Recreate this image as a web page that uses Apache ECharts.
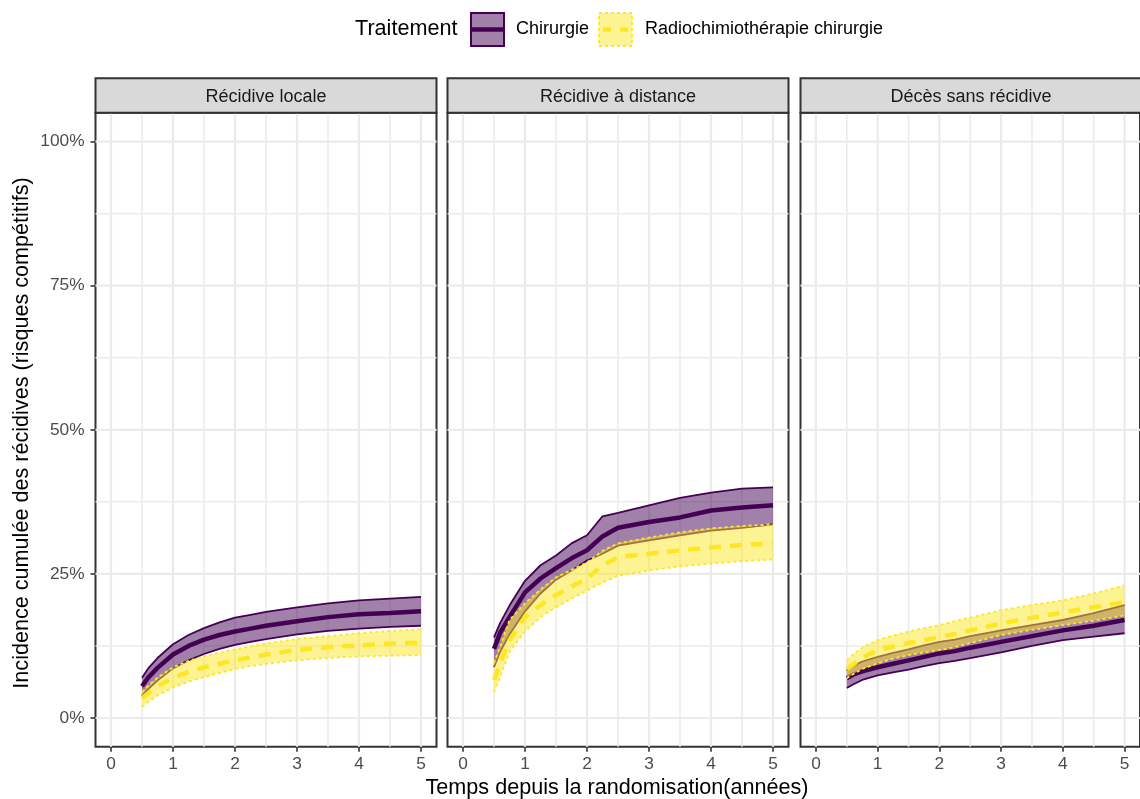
<!DOCTYPE html>
<html>
<head>
<meta charset="utf-8">
<script src="https://cdn.jsdelivr.net/npm/echarts@6/dist/echarts.min.js"></script>
<style>html,body{margin:0;padding:0;background:#fff}#c{width:1140px;height:799px}</style>
</head>
<body>
<div id="c"></div>
<script>
// ---------------- DATA ----------------
const panelTitles = ['Récidive locale', 'Récidive à distance', 'Décès sans récidive'];
const groupNames = ['Chirurgie', 'Radiochimiothérapie chirurgie'];
const legendTitle = 'Traitement';
const xTitle = 'Temps depuis la randomisation(années)';
const yTitle = 'Incidence cumulée des récidives (risques compétitifs)';
const xTicks = [0, 1, 2, 3, 4, 5];
const xMinor = [0.5, 1.5, 2.5, 3.5, 4.5];
const yTicks = [0, 25, 50, 75, 100];
const yMinor = [12.5, 37.5, 62.5, 87.5];
const times = [0.5, 0.6, 0.75, 1, 1.25, 1.5, 1.75, 2, 2.25, 2.5, 3, 3.5, 4, 4.5, 5];

// Récidive locale
const locChirCenter = [5.5, 7, 8.7, 11, 12.5, 13.6, 14.4, 15, 15.5, 16, 16.8, 17.5, 18, 18.2, 18.5];
const locChirUpper  = [7, 8.6, 10.4, 12.8, 14.4, 15.6, 16.6, 17.4, 17.9, 18.4, 19.2, 19.9, 20.4, 20.7, 21];
const locChirLower  = [3.8, 5, 6.5, 8.6, 10, 11.1, 12, 12.7, 13.2, 13.7, 14.5, 15.1, 15.5, 15.8, 16];
const locRadioCenter = [3.4, 4.3, 5.5, 7, 8, 8.8, 9.4, 10, 10.5, 11, 11.8, 12.3, 12.6, 12.9, 13.1];
const locRadioUpper  = [4.5, 5.6, 7, 8.8, 9.9, 10.7, 11.3, 11.9, 12.4, 12.9, 13.7, 14.2, 14.7, 15.1, 15.4];
const locRadioLower  = [1.9, 2.8, 3.9, 5.3, 6.3, 7.1, 7.8, 8.5, 9, 9.4, 10, 10.4, 10.7, 10.8, 10.9];

// Récidive à distance
const distChirCenter = [12, 14.8, 17.5, 21.8, 24.2, 26, 27.7, 29.1, 31.5, 33, 34, 34.8, 36, 36.5, 36.9];
const distChirUpper  = [14, 16.5, 19.5, 23.8, 26.5, 28.2, 30.3, 31.7, 35, 35.6, 36.9, 38.2, 39.1, 39.8, 40];
const distChirLower  = [8.8, 11.5, 14.5, 18.5, 21.6, 24, 25.6, 27.3, 28.5, 29.9, 30.8, 31.7, 32.5, 33, 33.6];
const distRadioCenter = [6.6, 9.5, 13.5, 17.5, 19.6, 21.3, 22.8, 24.2, 26.5, 27.9, 28.5, 29.1, 29.6, 30, 30.3];
const distRadioUpper  = [9.5, 12.5, 17, 19.9, 22.3, 24.4, 25.7, 27, 29, 30.3, 31.3, 32.2, 32.9, 33.3, 33.6];
const distRadioLower  = [4.5, 7.2, 11.5, 15, 17.5, 19.2, 20.7, 22.1, 23.5, 24.7, 25.6, 26.3, 26.8, 27.2, 27.5];

// Décès sans récidive
const deathChirCenter = [6.9, 7.5, 8.1, 8.8, 9.4, 10, 10.6, 11.2, 11.6, 12.2, 13.2, 14.2, 15.2, 16, 17];
const deathChirUpper  = [8.3, 9, 9.8, 10.6, 11.3, 11.9, 12.6, 13.2, 13.6, 14.2, 15.2, 16.1, 17, 18.2, 19.6];
const deathChirLower  = [5.2, 5.8, 6.6, 7.4, 7.9, 8.4, 9, 9.5, 9.9, 10.4, 11.4, 12.5, 13.5, 14.1, 14.7];
const deathRadioCenter = [8.5, 9.3, 10.4, 11.8, 12.4, 13, 13.5, 14, 14.6, 15.2, 16.4, 17.4, 18.3, 19.2, 20.1];
const deathRadioUpper  = [10, 11, 12.2, 13.5, 14.3, 15, 15.6, 16.1, 16.8, 17.4, 18.7, 19.6, 20.4, 21.6, 23];
const deathRadioLower  = [6.9, 7.6, 8.5, 9.5, 10.3, 10.9, 11.4, 11.8, 12.3, 13, 14.4, 15.3, 16.1, 16.9, 17.8];

// ---------------- LAYOUT / STYLE ----------------
const FONT = 'Liberation Sans, Arial, sans-serif';
const PURPLE = '#440154', PURPLE_FILL = 'rgba(68,1,84,0.5)';
const YELLOW = '#FDE725', YELLOW_FILL = 'rgba(253,231,37,0.5)';
const X_MIN = -0.25, X_MAX = 5.25, Y_MIN = -5, Y_MAX = 105;
const gridLefts = [95.5, 447.5, 800.5];
const GRID_W = 341, GRID_TOP = 112.8, GRID_H = 634;
const STRIP_TOP = 78.3;
const SMALL = 17.3, TEXT = 18, BIG = 21.6;

const panelData = [
  {chir: [locChirCenter, locChirUpper, locChirLower], radio: [locRadioCenter, locRadioUpper, locRadioLower]},
  {chir: [distChirCenter, distChirUpper, distChirLower], radio: [distRadioCenter, distRadioUpper, distRadioLower]},
  {chir: [deathChirCenter, deathChirUpper, deathChirLower], radio: [deathRadioCenter, deathRadioUpper, deathRadioLower]}
];

const pairs = (arr) => times.map((t, i) => [t, arr[i]]);

const grids = [], xAxes = [], yAxes = [], series = [], graphics = [];

gridLefts.forEach((left, p) => {
  grids.push({left: left, top: GRID_TOP, width: GRID_W, height: GRID_H, show: true,
    backgroundColor: '#fff', borderColor: '#333333', borderWidth: 2, containLabel: false});
  xAxes.push({type: 'value', gridIndex: p, min: X_MIN, max: X_MAX,
    axisLine: {show: false, onZero: false},
    axisTick: {show: true, length: 5, customValues: xTicks, lineStyle: {color: '#333333', width: 1.6}},
    axisLabel: {show: true, customValues: xTicks, margin: 9, color: '#4D4D4D', fontSize: SMALL, fontFamily: FONT},
    splitLine: {show: false}});
  yAxes.push({type: 'value', gridIndex: p, min: Y_MIN, max: Y_MAX,
    axisLine: {show: false, onZero: false},
    axisTick: {show: p === 0, length: 5, customValues: yTicks, lineStyle: {color: '#333333', width: 1.6}},
    axisLabel: {show: p === 0, customValues: yTicks, margin: 11, color: '#4D4D4D', fontSize: SMALL, fontFamily: FONT,
      formatter: (v) => v + '%'},
    splitLine: {show: false}});

  // gridlines
  series.push({type: 'custom', xAxisIndex: p, yAxisIndex: p, z: 1, silent: true, data: [0],
    renderItem: function (params, api) {
      const children = [];
      const addV = (v, w) => { const a = api.coord([v, Y_MIN]), b = api.coord([v, Y_MAX]);
        children.push({type: 'line', shape: {x1: a[0], y1: a[1], x2: b[0], y2: b[1]}, style: {stroke: '#EBEBEB', lineWidth: w}}); };
      const addH = (v, w) => { const a = api.coord([X_MIN, v]), b = api.coord([X_MAX, v]);
        children.push({type: 'line', shape: {x1: a[0], y1: a[1], x2: b[0], y2: b[1]}, style: {stroke: '#EBEBEB', lineWidth: w}}); };
      xMinor.forEach(v => addV(v, 1.5)); yMinor.forEach(v => addH(v, 1.5));
      xTicks.forEach(v => addV(v, 2.2)); yTicks.forEach(v => addH(v, 2.2));
      return {type: 'group', children: children};
    }});

  const groups = [
    {d: panelData[p].chir, col: PURPLE, fill: PURPLE_FILL, border: 'solid', center: 'solid', z: 2, name: groupNames[0]},
    {d: panelData[p].radio, col: YELLOW, fill: YELLOW_FILL, border: [3, 3], center: [12, 9], z: 4, name: groupNames[1]}
  ];
  groups.forEach(g => {
    const [c, up, lo] = g.d;
    series.push({type: 'custom', name: g.name, xAxisIndex: p, yAxisIndex: p, z: g.z, silent: true, data: [0],
      renderItem: function (params, api) {
        const pts = [];
        for (let i = 0; i < times.length; i++) pts.push(api.coord([times[i], up[i]]));
        for (let i = times.length - 1; i >= 0; i--) pts.push(api.coord([times[i], lo[i]]));
        return {type: 'polygon', shape: {points: pts}, style: {fill: g.fill}};
      }});
    [[up, 1.8, g.border], [lo, 1.8, g.border], [c, 4.5, g.center]].forEach(([arr, w, type]) => {
      series.push({type: 'line', name: g.name, xAxisIndex: p, yAxisIndex: p, z: g.z + 1, silent: true,
        data: pairs(arr), showSymbol: false, symbol: 'none', animation: false,
        lineStyle: {color: g.col, width: w, type: type, cap: 'butt'}});
    });
  });

  // strip
  graphics.push({type: 'rect', shape: {x: left, y: STRIP_TOP, width: GRID_W, height: GRID_TOP - STRIP_TOP},
    style: {fill: '#D9D9D9', stroke: '#333333', lineWidth: 2}, z: 10});
  graphics.push({type: 'text', x: left + GRID_W / 2, y: (STRIP_TOP + GRID_TOP) / 2 + 1, z: 11,
    style: {text: panelTitles[p], textAlign: 'center', textVerticalAlign: 'middle', fontSize: TEXT, fontFamily: FONT, fill: '#1A1A1A'}});
});

// axis titles
graphics.push({type: 'text', x: 617, y: 788, z: 11,
  style: {text: xTitle, textAlign: 'center', textVerticalAlign: 'middle', fontSize: BIG, fontFamily: FONT, fill: '#000'}});
graphics.push({type: 'text', x: 22, y: 433, rotation: Math.PI / 2, z: 11,
  style: {text: yTitle, textAlign: 'center', textVerticalAlign: 'middle', fontSize: BIG, fontFamily: FONT, fill: '#000'}});

// legend
const LEG_Y = 29.5, KEY_TOP = 13, KEY_H = 33, KEY_W = 33;
graphics.push({type: 'text', x: 355, y: LEG_Y, z: 11,
  style: {text: legendTitle, textAlign: 'left', textVerticalAlign: 'middle', fontSize: BIG, fontFamily: FONT, fill: '#000'}});
graphics.push({type: 'rect', shape: {x: 471, y: KEY_TOP, width: KEY_W, height: KEY_H}, z: 11,
  style: {fill: PURPLE_FILL, stroke: PURPLE, lineWidth: 2}});
graphics.push({type: 'line', shape: {x1: 472, y1: LEG_Y, x2: 503, y2: LEG_Y}, z: 12,
  style: {stroke: PURPLE, lineWidth: 4.5}});
graphics.push({type: 'text', x: 516, y: LEG_Y, z: 11,
  style: {text: groupNames[0], textAlign: 'left', textVerticalAlign: 'middle', fontSize: TEXT, fontFamily: FONT, fill: '#000'}});
graphics.push({type: 'rect', shape: {x: 599, y: KEY_TOP, width: KEY_W, height: KEY_H}, z: 11,
  style: {fill: YELLOW_FILL, stroke: YELLOW, lineWidth: 1.8, lineDash: [3, 3]}});
graphics.push({type: 'line', shape: {x1: 600, y1: LEG_Y, x2: 631, y2: LEG_Y}, z: 12,
  style: {stroke: YELLOW, lineWidth: 4.5, lineDash: [8, 9], lineDashOffset: -3}});
graphics.push({type: 'text', x: 645, y: LEG_Y, z: 11,
  style: {text: groupNames[1], textAlign: 'left', textVerticalAlign: 'middle', fontSize: TEXT, fontFamily: FONT, fill: '#000'}});

const chart = echarts.init(document.getElementById('c'), null, {renderer: 'canvas'});
chart.setOption({
  animation: false,
  backgroundColor: '#fff',
  textStyle: {fontFamily: FONT},
  grid: grids, xAxis: xAxes, yAxis: yAxes, series: series, graphic: graphics
});
</script>
</body>
</html>
